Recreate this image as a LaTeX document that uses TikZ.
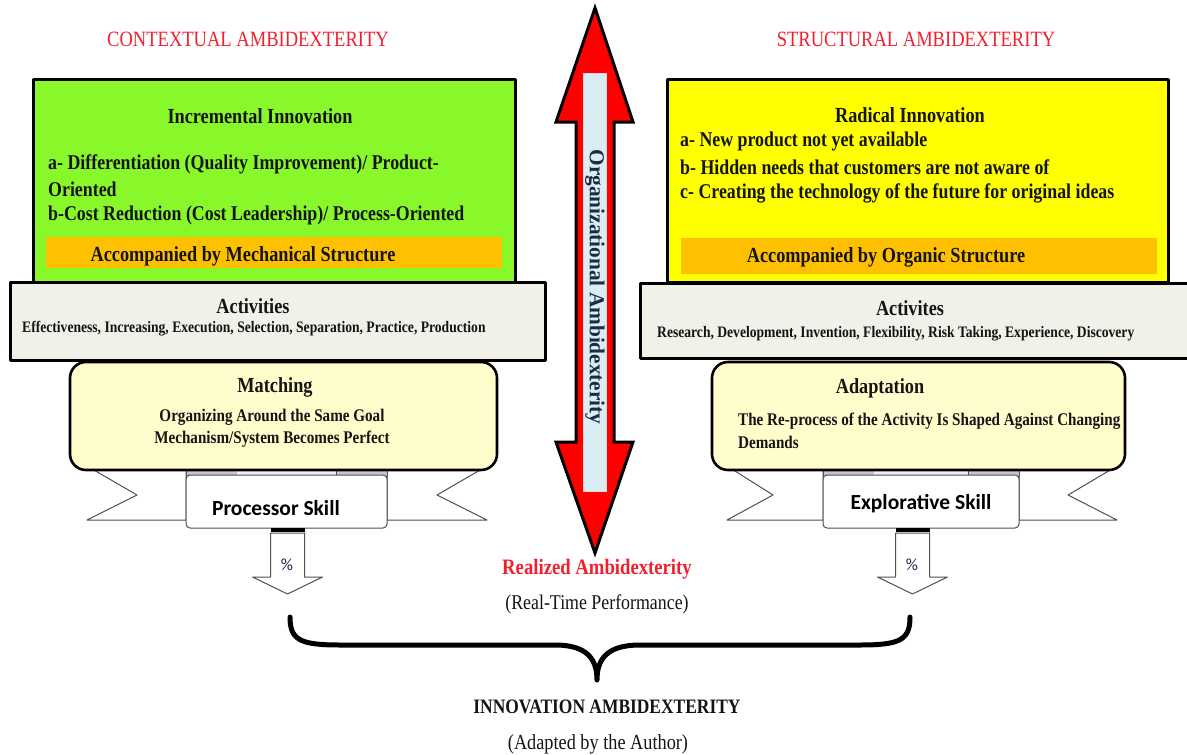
\documentclass[tikz,border=0pt]{standalone}
\usepackage{fontspec}
\setmainfont{Liberation Serif}
\newfontfamily\narrowserif[FakeStretch=0.85]{Liberation Serif}
\newfontfamily\skillfont{Carlito}
\usetikzlibrary{calc}
\definecolor{inkC}{HTML}{141414}
\definecolor{navyC}{HTML}{1C2A44}
\definecolor{titleRedC}{HTML}{F2202E}
\definecolor{limeC}{HTML}{88F82A}
\definecolor{lemonC}{HTML}{FFFF00}
\definecolor{amberC}{HTML}{FFC000}
\definecolor{stoneC}{HTML}{F1F0E9}
\definecolor{creamC}{HTML}{FFFDCB}
\definecolor{arrowRedC}{HTML}{FF0000}
\definecolor{iceC}{HTML}{DAEDF3}
\definecolor{ribbonC}{HTML}{505050}

\tikzset{
  sidehead/.style={font=\narrowserif\fontsize{21.8}{26}\selectfont, text=titleRedC, inner sep=0pt},
  boxhead/.style={font=\narrowserif\bfseries\fontsize{21.5}{26}\selectfont, text=inkC, inner sep=0pt},
  boxline/.style={font=\narrowserif\bfseries\fontsize{21}{25}\selectfont, text=inkC, inner sep=0pt, anchor=west},
  listline/.style={font=\narrowserif\bfseries\fontsize{16}{19}\selectfont, text=inkC, inner sep=0pt, anchor=west},
  smallline/.style={font=\narrowserif\bfseries\fontsize{17.8}{21}\selectfont, text=inkC, inner sep=0pt},
  skilltext/.style={font=\skillfont\bfseries\fontsize{21.5}{24}\selectfont, text=black, inner sep=0pt},
  pcttext/.style={font=\skillfont\fontsize{17}{20}\selectfont, text=navyC, inner sep=0pt},
  plaintext/.style={font=\narrowserif\fontsize{21}{25}\selectfont, text=inkC, inner sep=0pt},
  heavybox/.style={draw=black, line width=3pt},
  ribbonline/.style={draw=ribbonC, line width=1pt, line join=round}
}

\begin{document}
\begin{tikzpicture}[
  x=1pt,
  y=-1pt,
  line cap=round,
  line join=round
]

\useasboundingbox (0,0) rectangle (1187,755);

% Column titles
\node[sidehead] (ctxHead) at (248,39) {CONTEXTUAL AMBIDEXTERITY};
\node[sidehead] (strHead) at (916,39) {STRUCTURAL AMBIDEXTERITY};

% Innovation boxes
\filldraw[fill=limeC, heavybox] (33,79) rectangle (515,282);
\filldraw[fill=lemonC, heavybox] (667,79) rectangle (1168,282);
\fill[amberC] (46,237) rectangle (502,268);
\fill[amberC] (681,238) rectangle (1157,274);

\node[boxhead] (incHead) at (260,116) {Incremental Innovation};
\node[boxline] (incA) at (48,164) {a- Differentiation (Quality Improvement)/ Product-};
\node[boxline] (incA2) at (48,189) {Oriented};
\node[boxline] (incB) at (48,215) {b-Cost Reduction (Cost Leadership)/ Process-Oriented};
\node[boxhead] (mechStr) at (243,256) {Accompanied by Mechanical Structure};

\node[boxhead] (radHead) at (910,115) {Radical Innovation};
\node[boxline] (radA) at (680,141) {a- New product not yet available};
\node[boxline] (radB) at (680,167) {b- Hidden needs that customers are not aware of};
\node[boxline] (radC) at (680,193) {c- Creating the technology of the future for original ideas};
\node[boxhead] (orgStr) at (886,257) {Accompanied by Organic Structure};

% Activity bars
\filldraw[fill=stoneC, heavybox] (10,282) rectangle (545,360);
\filldraw[fill=stoneC, heavybox] (640,283) rectangle (1200,358);
\node[boxhead] (actL) at (253,306) {Activities};
\node[listline] (actLlist) at (22,329) {Effectiveness, Increasing, Execution, Selection, Separation, Practice, Production};
\node[boxhead] (actR) at (910,308) {Activites};
\node[listline] (actRlist) at (657,334) {Research, Development, Invention, Flexibility, Risk Taking, Experience, Discovery};

% Ribbons with skill labels
\foreach \lx/\nx/\bl/\br/\rn/\rx in {87/137/186/387/437/487, 727/773/823/1019/1068/1117}{
  \filldraw[fill=white, ribbonline] (\lx,466) -- (\bl,466) -- (\bl,520) -- (\lx,520) -- (\nx,495) -- cycle;
  \filldraw[fill=white, ribbonline] (\rx,466) -- (\br,466) -- (\br,520) -- (\rx,520) -- (\rn,495) -- cycle;
  \filldraw[fill=gray!45, draw=ribbonC, line width=0.6pt] (\bl,470) rectangle ({\bl+51},476);
  \filldraw[fill=gray!45, draw=ribbonC, line width=0.6pt] ({\br-51},470) rectangle (\br,476);
  \fill[gray!12] ({\bl+51},470) rectangle ({\br-51},475);
  \filldraw[fill=white, ribbonline, rounded corners=4pt] (\bl,475) rectangle (\br,528);
}

% Fit boxes
\filldraw[fill=creamC, draw=black, line width=2.6pt, rounded corners=16pt] (70,362) rectangle (497,470);
\filldraw[fill=creamC, draw=black, line width=2.6pt, rounded corners=16pt] (712,362) rectangle (1125,470);
\node[boxhead] (matchHead) at (275,387) {Matching};
\node[smallline] (matchA) at (272,417) {Organizing Around the Same Goal};
\node[smallline] (matchB) at (272,439) {Mechanism/System Becomes Perfect};
\node[boxhead] (adaptHead) at (880,388) {Adaptation};
\node[smallline, anchor=west] (adaptA) at (738,421) {The Re-process of the Activity Is Shaped Against Changing};
\node[smallline, anchor=west] (adaptB) at (738,442) {Demands};

\node[skilltext] (procSkill) at (276,508) {Processor Skill};
\node[skilltext] (explSkill) at (921,504) {Explorative Skill};

% Share arrows
\foreach \ax in {287.5, 912.5}{
  \fill[black] ({\ax-17},528) rectangle ({\ax+17},532);
  \filldraw[fill=white, ribbonline]
    ({\ax-17},533) -- ({\ax+17},533) -- ({\ax+17},577) -- ({\ax+35},577)
    -- (\ax,594) -- ({\ax-35},577) -- ({\ax-17},577) -- cycle;
}
\node[pcttext] (pctL) at (287,565) {\%};
\node[pcttext] (pctR) at (912,565) {\%};

% Organizational ambidexterity double arrow
\filldraw[fill=arrowRedC, draw=black, line width=3pt, line join=miter]
  (595,8) -- (633,122) -- (614,122) -- (614,442) -- (633,442) -- (595,553)
  -- (556,442) -- (576,442) -- (576,122) -- (556,122) -- cycle;
\filldraw[fill=iceC, draw=gray!30, line width=0.6pt] (583,73) rectangle (606,491);
\node[font=\bfseries\fontsize{21.3}{24}\selectfont, text=navyC, inner sep=0pt, rotate=-90]
  (orgAmb) at (595,287) {Organizational Ambidexterity};

% Outcome
\node[boxhead, text=titleRedC, font=\narrowserif\bfseries\fontsize{22}{26}\selectfont] (realized) at (597,569) {Realized Ambidexterity};
\node[plaintext] (realTime) at (597,604) {(Real-Time Performance)};

\draw[black, line width=5pt]
  (290,617) .. controls (290,640) and (300,645) .. (340,645) -- (555,645)
  .. controls (588,645) and (597,660) .. (597,680)
  .. controls (597,660) and (606,645) .. (640,645) -- (860,645)
  .. controls (900,645) and (910,640) .. (910,617);

\node[boxhead, font=\narrowserif\bfseries\fontsize{20.5}{24}\selectfont] (innoAmb) at (607,707) {INNOVATION AMBIDEXTERITY};
\node[plaintext, font=\narrowserif\fontsize{21.5}{25}\selectfont] (adapted) at (598,744) {(Adapted by the Author)};

\end{tikzpicture}
\end{document}
